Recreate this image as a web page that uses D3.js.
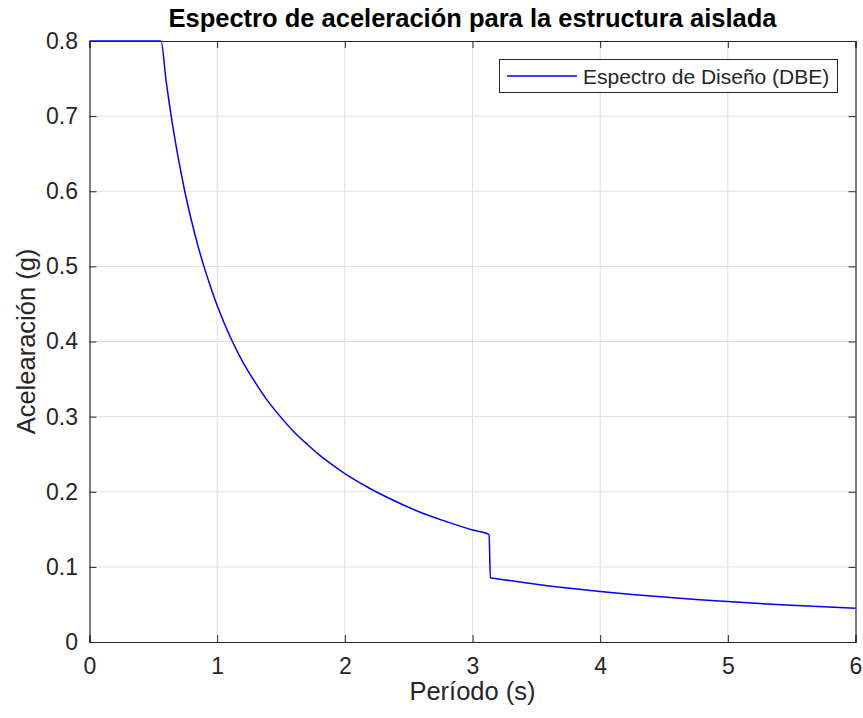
<!DOCTYPE html>
<html>
<head>
<meta charset="utf-8">
<script src="https://cdn.jsdelivr.net/npm/d3@7"></script>
<style>
  html, body { margin: 0; padding: 0; background: #fff; }
  svg { display: block; font-family: "Liberation Sans", Arial, Helvetica, sans-serif; }
</style>
</head>
<body>
<svg id="chart" width="863" height="718"></svg>
<script>
// Spectrum samples: period (s) and spectral acceleration (g)
const periods = [0, 0.56, 0.6, 0.65, 0.7, 0.75, 0.8, 0.85, 0.9, 0.95, 1.0, 1.1, 1.2, 1.3, 1.4, 1.5, 1.6, 1.7, 1.8, 1.9, 2.0,
  2.2, 2.4, 2.6, 2.8, 3.0, 3.13, 3.14, 3.2, 3.4, 3.6, 3.8, 4.0, 4.25, 4.5, 4.75, 5.0, 5.25, 5.5, 5.75, 6.0];
const accel = [0.8, 0.8, 0.747, 0.689, 0.640, 0.597, 0.560, 0.527, 0.498, 0.472, 0.448, 0.407, 0.373, 0.345, 0.320, 0.299, 0.280, 0.264, 0.249, 0.236, 0.224,
  0.204, 0.187, 0.172, 0.160, 0.149, 0.143, 0.0855, 0.0840, 0.0791, 0.0747, 0.0708, 0.0673, 0.0633, 0.0598, 0.0566, 0.0538, 0.0512, 0.0489, 0.0468, 0.0449];

const xTicks = [0, 1, 2, 3, 4, 5, 6];
const yTicks = [0, 0.1, 0.2, 0.3, 0.4, 0.5, 0.6, 0.7, 0.8];
const yTickLabels = ["0", "0.1", "0.2", "0.3", "0.4", "0.5", "0.6", "0.7", "0.8"];

const titleText = "Espectro de aceleración para la estructura aislada";
const xLabelText = "Período (s)";
const yLabelText = "Acelearación (g)";
const seriesName = "Espectro de Diseño (DBE)";

const svg = d3.select("#chart");
const m = { left: 89.5, right: 855.5, top: 41, bottom: 642 };
const x = d3.scaleLinear().domain([0, 6]).range([m.left, m.right]);
const y = d3.scaleLinear().domain([0, 0.8]).range([m.bottom, m.top]);
const axisColor = "#262626";
const fontStack = "'Liberation Sans', Arial, Helvetica, sans-serif";

// grid
const grid = svg.append("g");
grid.selectAll("line.gx").data(xTicks.slice(1, -1)).join("line")
  .attr("x1", d => x(d)).attr("x2", d => x(d))
  .attr("y1", m.top).attr("y2", m.bottom)
  .attr("stroke", "#e0e0e0").attr("stroke-width", 1);
grid.selectAll("line.gy").data(yTicks.slice(1, -1)).join("line")
  .attr("y1", d => y(d)).attr("y2", d => y(d))
  .attr("x1", m.left).attr("x2", m.right)
  .attr("stroke", "#e0e0e0").attr("stroke-width", 1);

// data line
const pts = periods.map((p, i) => [p, accel[i]]);
const line = d3.line().x(d => x(d[0])).y(d => y(d[1])).curve(d3.curveMonotoneX);
svg.append("path").datum(pts)
  .attr("d", line)
  .attr("fill", "none")
  .attr("stroke", "#0000ff")
  .attr("stroke-width", 1.5);

// axes (ticks inward, labels outside)
const tickLen = 7;
const xAxisBottom = d3.axisBottom(x).tickValues(xTicks).tickSize(-tickLen).tickPadding(16).tickFormat(d3.format("d"));
const xAxisTop = d3.axisTop(x).tickValues(xTicks).tickSize(-tickLen).tickFormat("");
const yAxisLeft = d3.axisLeft(y).tickValues(yTicks).tickSize(-tickLen).tickPadding(11.5)
  .tickFormat((d, i) => yTickLabels[i]);
const yAxisRight = d3.axisRight(y).tickValues(yTicks).tickSize(-tickLen).tickFormat("");

function styleAxis(g) {
  g.select(".domain").attr("stroke", axisColor).attr("stroke-width", 1.2);
  g.selectAll(".tick line").attr("stroke", axisColor).attr("stroke-width", 1);
  g.selectAll(".tick text").attr("fill", axisColor).style("font-size", "23px")
    .style("font-family", fontStack);
}

svg.append("g").attr("transform", `translate(0,${m.bottom})`).call(xAxisBottom).call(styleAxis);
svg.append("g").attr("transform", `translate(0,${m.top})`).call(xAxisTop).call(styleAxis);
svg.append("g").attr("transform", `translate(${m.left},0)`).call(yAxisLeft).call(styleAxis);
svg.append("g").attr("transform", `translate(${m.right},0)`).call(yAxisRight).call(styleAxis);

// title and axis labels
svg.append("text")
  .attr("x", (m.left + m.right) / 2).attr("y", 27)
  .attr("text-anchor", "middle")
  .attr("fill", "#000")
  .style("font-size", "25.5px").style("font-weight", "bold")
  .text(titleText);

svg.append("text")
  .attr("x", (m.left + m.right) / 2).attr("y", 700)
  .attr("text-anchor", "middle")
  .attr("fill", axisColor)
  .style("font-size", "25.5px")
  .text(xLabelText);

svg.append("text")
  .attr("transform", `translate(35,${(m.top + m.bottom) / 2}) rotate(-90)`)
  .attr("text-anchor", "middle")
  .attr("fill", axisColor)
  .style("font-size", "25.5px")
  .text(yLabelText);

// legend
const lg = svg.append("g");
lg.append("rect")
  .attr("x", 499.5).attr("y", 59.5).attr("width", 338).attr("height", 33)
  .attr("fill", "#fff").attr("stroke", axisColor).attr("stroke-width", 1);
lg.append("line")
  .attr("x1", 507).attr("x2", 577).attr("y1", 76).attr("y2", 76)
  .attr("stroke", "#0000ff").attr("stroke-width", 1.5);
lg.append("text")
  .attr("x", 583).attr("y", 83.5)
  .attr("fill", axisColor)
  .style("font-size", "21px")
  .text(seriesName);
</script>
</body>
</html>
